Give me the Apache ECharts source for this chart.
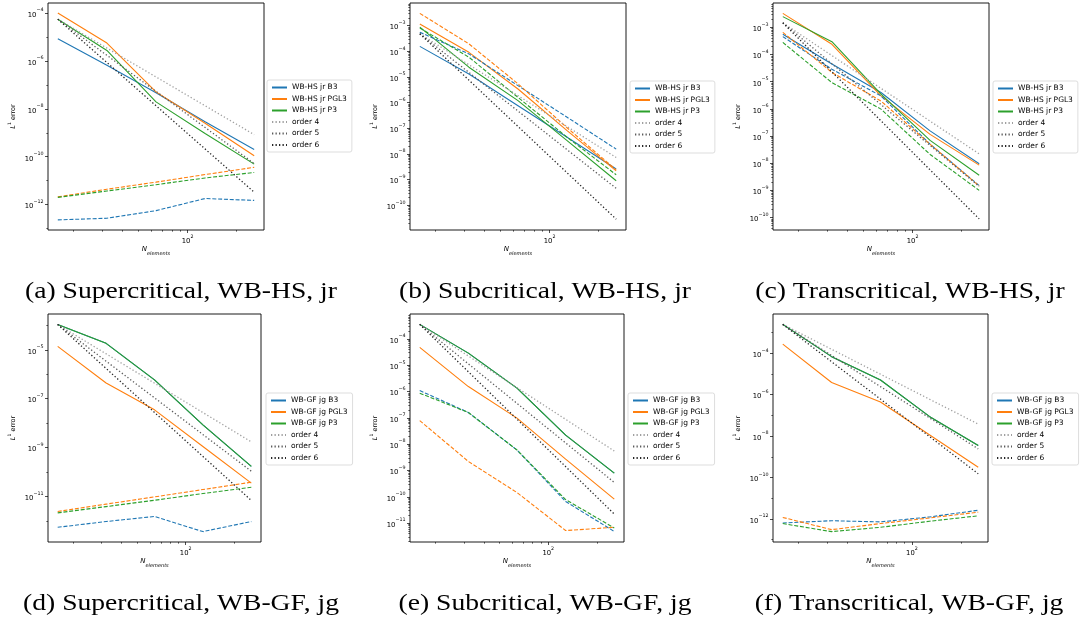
<!DOCTYPE html>
<html>
<head>
<meta charset="UTF-8">
<title>L1 error convergence</title>
<script src="https://cdn.jsdelivr.net/npm/echarts@6.0.0/dist/echarts.min.js"></script>
<style>
  html, body { margin: 0; padding: 0; background: #fff; }
  #chart { width: 1081px; height: 622px; }
</style>
</head>
<body>
<div id="chart"></div>
<script>
// x values (number of elements) and the end points of the reference slopes
const nElements = [16, 32, 64, 128, 256];
const orderX = [16, 256];

// (a) Supercritical, WB-HS, jr
const a_B3 = [8.5e-6, 6.6e-7, 4.7e-8, 2.9e-9, 2.0e-10];
const a_PGL3 = [1.0e-4, 5.6e-6, 5.1e-8, 2.5e-9, 1.1e-10];
const a_P3 = [5.5e-5, 2.75e-6, 1.95e-8, 9.3e-10, 4.9e-11];
const a_B3_dash = [2.3e-13, 2.7e-13, 5.6e-13, 1.8e-12, 1.5e-12];
const a_PGL3_dash = [2.1e-12, 4.4e-12, 8.7e-12, 1.8e-11, 3.6e-11];
const a_P3_dash = [2.0e-12, 3.7e-12, 6.8e-12, 1.3e-11, 2.2e-11];
const a_order4 = [5.5e-5, 8.4e-10];
const a_order5 = [5.5e-5, 5.2e-11];
const a_order6 = [5.5e-5, 3.3e-12];
const a_yTicks = [-12, -10, -8, -6, -4];

// (b) Subcritical, WB-HS, jr
const b_B3 = [1.55e-4, 1.3e-5, 7.6e-7, 4.5e-8, 2.6e-9];
const b_PGL3 = [1.15e-3, 9.1e-5, 3.4e-6, 8.1e-8, 2.2e-9];
const b_P3 = [8.7e-4, 2.4e-5, 1.2e-6, 3.3e-8, 9.1e-10];
const b_B3_dash = [5.5e-4, 7.9e-5, 4.6e-6, 2.7e-7, 1.55e-8];
const b_PGL3_dash = [3.0e-3, 1.95e-4, 5.4e-6, 1.05e-7, 2.4e-9];
const b_P3_dash = [8.1e-4, 5.9e-5, 1.6e-6, 4.5e-8, 1.55e-9];
const b_order4 = [4.8e-4, 7.3e-9];
const b_order5 = [4.8e-4, 4.6e-10];
const b_order6 = [4.8e-4, 2.9e-11];
const b_yTicks = [-10, -9, -8, -7, -6, -5, -4, -3];

// (c) Transcritical, WB-HS, jr
const c_B3 = [5.6e-4, 4.5e-5, 4.0e-6, 1.55e-7, 9.5e-9];
const c_PGL3 = [3.3e-3, 2.4e-4, 3.0e-6, 1.15e-7, 8.5e-9];
const c_P3 = [2.5e-3, 3.0e-4, 3.5e-6, 6.9e-8, 3.6e-9];
const c_B3_dash = [4.6e-4, 2.9e-5, 3.0e-6, 5.0e-8, 1.5e-9];
const c_PGL3_dash = [6.6e-4, 2.2e-5, 1.95e-6, 5.0e-8, 1.45e-9];
const c_P3_dash = [2.8e-4, 9.3e-6, 9.8e-7, 2.1e-8, 1.0e-9];
const c_order4 = [1.48e-3, 2.2e-8];
const c_order5 = [1.48e-3, 1.4e-9];
const c_order6 = [1.48e-3, 8.9e-11];
const c_yTicks = [-10, -9, -8, -7, -6, -5, -4, -3];

// (d) Supercritical, WB-GF, jg  (B3 lies under P3)
const d_B3 = [1.1e-4, 1.85e-5, 5.9e-7, 8.5e-9, 1.7e-10];
const d_PGL3 = [1.4e-5, 4.4e-7, 3.5e-8, 1.1e-9, 3.5e-11];
const d_P3 = [1.1e-4, 1.85e-5, 5.9e-7, 8.5e-9, 1.7e-10];
const d_B3_dash = [5.4e-13, 9.3e-13, 1.5e-12, 3.6e-13, 9.3e-13];
const d_PGL3_dash = [2.4e-12, 4.8e-12, 9.5e-12, 1.9e-11, 3.8e-11];
const d_P3_dash = [2.1e-12, 3.8e-12, 6.9e-12, 1.3e-11, 2.35e-11];
const d_order4 = [1.1e-4, 1.7e-9];
const d_order5 = [1.1e-4, 1.07e-10];
const d_order6 = [1.1e-4, 6.8e-12];
const d_yTicks = [-11, -9, -7, -5];

// (e) Subcritical, WB-GF, jg
const e_B3 = [3.6e-4, 2.9e-5, 1.35e-6, 2.2e-8, 7.9e-10];
const e_PGL3 = [4.8e-5, 1.55e-6, 9.8e-8, 2.7e-9, 8.1e-11];
const e_P3 = [3.6e-4, 2.9e-5, 1.35e-6, 2.2e-8, 7.9e-10];
const e_B3_dash = [1.1e-6, 1.6e-7, 6.0e-9, 6.6e-11, 4.8e-12];
const e_PGL3_dash = [7.9e-8, 2.2e-9, 1.45e-10, 5.2e-12, 6.9e-12];
const e_P3_dash = [8.7e-7, 1.6e-7, 6.0e-9, 7.8e-11, 6.5e-12];
const e_order4 = [3.6e-4, 5.5e-9];
const e_order5 = [3.6e-4, 3.5e-10];
const e_order6 = [3.6e-4, 2.2e-11];
const e_yTicks = [-11, -10, -9, -8, -7, -6, -5, -4];

// (f) Transcritical, WB-GF, jg
const f_B3 = [2.5e-3, 6.9e-5, 5.1e-6, 8.9e-8, 3.5e-9];
const f_PGL3 = [2.8e-4, 3.9e-6, 4.4e-7, 1.15e-8, 3.1e-10];
const f_P3 = [2.5e-3, 6.9e-5, 5.1e-6, 8.9e-8, 3.5e-9];
const f_B3_dash = [6.3e-13, 8.1e-13, 7.1e-13, 1.23e-12, 2.6e-12];
const f_PGL3_dash = [1.17e-12, 3.0e-13, 5.9e-13, 1.1e-12, 2.1e-12];
const f_P3_dash = [5.9e-13, 2.4e-13, 3.9e-13, 7.6e-13, 1.4e-12];
const f_order4 = [2.5e-3, 3.8e-8];
const f_order5 = [2.5e-3, 2.4e-9];
const f_order6 = [2.5e-3, 1.5e-10];
const f_yTicks = [-12, -10, -8, -6, -4];

const xMajorTicks = [100];
const xMinorTicks = [20, 30, 40, 50, 60, 70, 80, 90, 200];

const FONT = 'DejaVu Sans';
const BLUE = '#1f77b4', ORANGE = '#ff7f0e', GREEN = '#2ca02c';
const ORDER_COLORS = ['#a0a0a0', '#5c5c5c', '#262626'];

// layout of the six sub-figures (pixel boxes of the plot frames)
const panels = [
  { tag: 'WB-HS jr', caption: '(a) Supercritical, WB-HS, jr', left: 48, top: 3, width: 216, height: 227,
    yMin: -13.06, yMax: -3.58, yTicks: a_yTicks, legend: [267, 80], cap: [181, 292],
    d: [a_B3, a_PGL3, a_P3, a_B3_dash, a_PGL3_dash, a_P3_dash, a_order4, a_order5, a_order6] },
  { tag: 'WB-HS jr', caption: '(b) Subcritical, WB-HS, jr', left: 410, top: 3, width: 216, height: 227,
    yMin: -10.96, yMax: -2.12, yTicks: b_yTicks, legend: [630, 81], cap: [545, 292],
    d: [b_B3, b_PGL3, b_P3, b_B3_dash, b_PGL3_dash, b_P3_dash, b_order4, b_order5, b_order6] },
  { tag: 'WB-HS jr', caption: '(c) Transcritical, WB-HS, jr', left: 773, top: 3, width: 216, height: 227,
    yMin: -10.46, yMax: -2.10, yTicks: c_yTicks, legend: [993, 81], cap: [910, 292],
    d: [c_B3, c_PGL3, c_P3, c_B3_dash, c_PGL3_dash, c_P3_dash, c_order4, c_order5, c_order6] },
  { tag: 'WB-GF jg', caption: '(d) Supercritical, WB-GF, jg', left: 48, top: 314, width: 213, height: 228,
    yMin: -12.87, yMax: -3.53, yTicks: d_yTicks, legend: [266, 393], cap: [181, 604],
    d: [d_B3, d_PGL3, d_P3, d_B3_dash, d_PGL3_dash, d_P3_dash, d_order4, d_order5, d_order6] },
  { tag: 'WB-GF jg', caption: '(e) Subcritical, WB-GF, jg', left: 410, top: 314, width: 214, height: 228,
    yMin: -11.72, yMax: -3.05, yTicks: e_yTicks, legend: [628, 393], cap: [545, 604],
    d: [e_B3, e_PGL3, e_P3, e_B3_dash, e_PGL3_dash, e_P3_dash, e_order4, e_order5, e_order6] },
  { tag: 'WB-GF jg', caption: '(f) Transcritical, WB-GF, jg', left: 773, top: 314, width: 215, height: 228,
    yMin: -13.12, yMax: -2.10, yTicks: f_yTicks, legend: [992, 393], cap: [909, 604],
    d: [f_B3, f_PGL3, f_P3, f_B3_dash, f_PGL3_dash, f_P3_dash, f_order4, f_order5, f_order6] }
];

// log axes: x from 16 to 256 with a 5% margin on each side (in decades)
const xLo = Math.log10(16), xHi = Math.log10(256);
const xPad = (xHi - xLo) * 0.05;

// minor tick positions (log10) for a y range
function yMinor(p) {
  const out = [];
  const every = p.yTicks.length > 1 && p.yTicks[1] - p.yTicks[0] === 1;
  for (let n = Math.floor(p.yMin); n <= Math.ceil(p.yMax); n++) {
    if (every) {
      for (let k = 2; k <= 9; k++) out.push(n + Math.log10(k));
    } else if (p.yTicks.indexOf(n) < 0) {
      out.push(n);
    }
  }
  return out.filter(v => v > p.yMin && v < p.yMax);
}

const tickRich = {
  b: { fontFamily: FONT, fontSize: 6.8, color: '#000', lineHeight: 11, verticalAlign: 'bottom' },
  s: { fontFamily: FONT, fontSize: 4.8, color: '#000', lineHeight: 6, verticalAlign: 'top' }
};
const yNameRich = {
  i: { fontFamily: FONT, fontSize: 6.5, fontStyle: 'italic', color: '#000', lineHeight: 10, verticalAlign: 'bottom' },
  s: { fontFamily: FONT, fontSize: 4.6, color: '#000', lineHeight: 5, verticalAlign: 'top' },
  t: { fontFamily: FONT, fontSize: 6.5, color: '#000', lineHeight: 10, verticalAlign: 'bottom' }
};
const xNameRich = {
  i: { fontFamily: FONT, fontSize: 7, fontStyle: 'italic', color: '#000', lineHeight: 10, verticalAlign: 'top' },
  s: { fontFamily: FONT, fontSize: 5, fontStyle: 'italic', color: '#000', lineHeight: 6, verticalAlign: 'bottom' }
};

function toLog(xs, ys) {
  return xs.map((x, i) => [Math.log10(x), Math.log10(ys[i])]);
}

function mkLine(name, xs, ys, idx, color, type, width) {
  return {
    type: 'line', name: name, xAxisIndex: idx, yAxisIndex: idx,
    data: toLog(xs, ys), symbol: 'none', silent: true, animation: false,
    lineStyle: { color: color, width: width, type: type },
    itemStyle: { color: color }
  };
}

// extra axis that only carries the short minor ticks
function tickOnlyAxis(idx, pos, min, max, ticks) {
  return {
    type: 'value', gridIndex: idx, position: pos, offset: 0, min: min, max: max,
    axisLine: { show: false }, splitLine: { show: false }, axisLabel: { show: false },
    axisTick: { show: true, customValues: ticks, length: 1.7, lineStyle: { color: '#000', width: 0.6 } }
  };
}

const grids = [], xAxes = [], yAxes = [], xMinorAxes = [], yMinorAxes = [];
const legends = [], series = [], graphics = [];

panels.forEach((p, i) => {
  grids.push({ left: p.left, top: p.top, width: p.width, height: p.height,
    show: true, borderColor: '#000', borderWidth: 0.9, backgroundColor: 'transparent' });

  xAxes.push({
    type: 'value', gridIndex: i, position: 'bottom', min: xLo - xPad, max: xHi + xPad,
    axisLine: { show: false }, splitLine: { show: false },
    axisTick: { show: true, customValues: xMajorTicks.map(Math.log10), length: 3, lineStyle: { color: '#000', width: 0.7 } },
    axisLabel: { customValues: xMajorTicks.map(Math.log10), margin: 4,
      formatter: v => '{b|10}{s|' + Math.round(v) + '}', rich: tickRich },
    name: '{i|N}{s|elements}', nameLocation: 'middle', nameGap: 16, nameTextStyle: { rich: xNameRich }
  });
  xMinorAxes.push(tickOnlyAxis(i, 'bottom', xLo - xPad, xHi + xPad, xMinorTicks.map(Math.log10)));

  yAxes.push({
    type: 'value', gridIndex: i, position: 'left', min: p.yMin, max: p.yMax,
    axisLine: { show: false }, splitLine: { show: false },
    axisTick: { show: true, customValues: p.yTicks, length: 3, lineStyle: { color: '#000', width: 0.7 } },
    axisLabel: { customValues: p.yTicks, margin: 4.5,
      formatter: v => '{b|10}{s|\u2212' + Math.abs(Math.round(v)) + '}', rich: tickRich },
    name: '{i|L}{s|1}{t| error}', nameLocation: 'middle', nameGap: 31, nameTextStyle: { rich: yNameRich }
  });
  yMinorAxes.push(tickOnlyAxis(i, 'left', p.yMin, p.yMax, yMinor(p)));

  const names = [p.tag + ' B3', p.tag + ' PGL3', p.tag + ' P3'];
  const colors = [BLUE, ORANGE, GREEN];
  for (let k = 0; k < 3; k++) series.push(mkLine(names[k], nElements, p.d[k], i, colors[k], 'solid', 1.1));
  for (let k = 0; k < 3; k++) series.push(mkLine(names[k] + ' (dashed)', nElements, p.d[3 + k], i, colors[k], [4, 1.8], 1.1));
  for (let k = 0; k < 3; k++) series.push(mkLine('order ' + (4 + k), orderX, p.d[6 + k], i, ORDER_COLORS[k], [1.3, 2.2], 1.3));

  legends.push({
    left: p.legend[0], top: p.legend[1], orient: 'vertical', selectedMode: false,
    data: names.concat(['order 4', 'order 5', 'order 6']),
    itemWidth: 15, itemHeight: 8, itemGap: 3.5, padding: [3.5, 5, 3, 4],
    itemStyle: { opacity: 0, borderWidth: 0 },
    borderColor: '#d4d4d4', borderWidth: 0.8, borderRadius: 2, backgroundColor: '#fff',
    textStyle: { fontFamily: FONT, fontSize: 7.5, color: '#000' }
  });

  graphics.push({
    type: 'text', x: p.cap[0], y: p.cap[1], scaleX: 1.15, silent: true,
    style: { text: p.caption, fontFamily: 'Liberation Serif', fontSize: 24, fill: '#000',
      align: 'center', verticalAlign: 'middle' }
  });
});

const chart = echarts.init(document.getElementById('chart'), null, { renderer: 'canvas' });
chart.setOption({
  backgroundColor: '#fff',
  animation: false,
  grid: grids,
  xAxis: xAxes.concat(xMinorAxes),
  yAxis: yAxes.concat(yMinorAxes),
  legend: legends,
  series: series,
  graphic: graphics
});
</script>
</body>
</html>
